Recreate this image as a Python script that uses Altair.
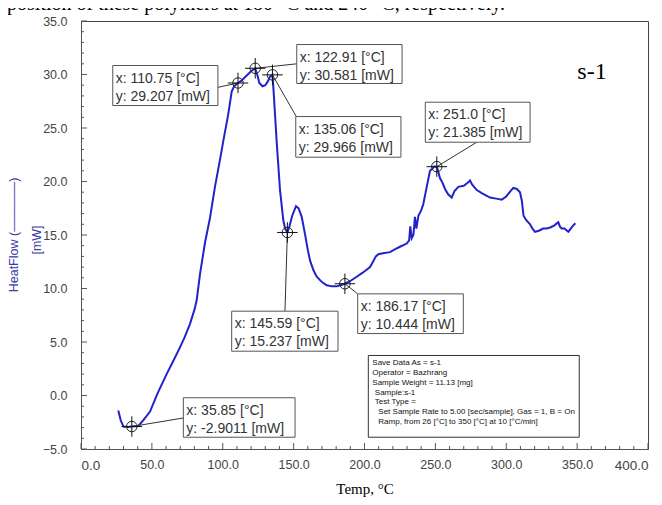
import altair as alt
import pandas as pd

# ---------------- data ----------------
temp = [26.3, 28.0, 29.9, 33.0, 35.85, 40.4, 44.0, 48.7, 54.0, 60.4, 65.0, 69.8, 73.0, 76.9,
        80.0, 81.6, 84.0, 87.5, 91.0, 94.5, 98.0, 100.4, 103.9, 106.3, 108.0, 110.75, 113.0,
        116.9, 120.0, 122.91, 124.5, 125.8, 128.0, 130.0, 132.0, 133.3, 135.06, 135.7, 137.0,
        138.0, 140.4, 142.7, 144.0, 145.59, 147.0, 149.0, 151.7, 153.5, 155.7, 158.0, 160.0,
        161.6, 164.0, 166.3, 170.0, 173.3, 177.0, 180.4, 183.0, 186.17, 190.0, 194.5, 199.0,
        203.9, 206.0, 208.0, 209.8, 213.0, 218.0, 222.0, 225.0, 229.8, 231.5, 232.3, 233.3,
        234.5, 235.6, 236.6, 238.0, 240.0, 241.5, 243.9, 246.2, 248.0, 249.0, 251.0, 253.3,
        255.0, 256.8, 259.0, 261.5, 263.5, 266.2, 270.0, 273.0, 274.4, 276.0, 279.2, 283.0,
        288.5, 293.0, 296.8, 300.0, 303.0, 305.0, 307.5, 309.7, 311.0, 312.2, 314.0, 316.8,
        318.5, 320.3, 323.0, 326.0, 328.5, 331.0, 334.0, 336.7, 337.8, 339.1, 341.0, 343.8,
        345.5, 347.3, 348.8]
heat = [-1.4, -2.3, -2.9, -2.95, -2.9011, -2.85, -2.3, -1.5, 0.2, 2.0, 3.2, 4.5, 5.4, 6.7,
        8.0, 8.9, 11.4, 14.3, 16.6, 19.5, 22.0, 23.8, 26.3, 28.4, 28.9, 29.207, 29.4,
        29.9, 30.3, 30.581, 29.9, 29.2, 28.9, 29.0, 29.4, 29.8, 29.966, 28.8, 26.0,
        23.8, 19.2, 16.4, 15.6, 15.237, 15.8, 16.8, 17.7, 17.5, 16.7, 15.1, 13.6,
        12.6, 11.7, 11.1, 10.6, 10.3, 10.2, 10.2, 10.3, 10.444, 10.7, 11.1, 11.5,
        12.0, 12.5, 13.0, 13.2, 13.3, 13.4, 13.7, 13.9, 14.2, 14.5, 15.8, 14.7,
        15.0, 16.7, 15.6, 16.8, 17.3, 17.9, 19.5, 21.0, 21.2, 21.4, 21.385, 20.3,
        19.9, 19.3, 18.8, 18.5, 19.1, 19.5, 19.6, 19.9, 20.1, 19.7, 19.2, 18.9,
        18.5, 18.4, 18.3, 18.6, 19.1, 19.4, 19.3, 19.0, 18.2, 16.8, 16.4, 16.0,
        15.6, 15.3, 15.4, 15.6, 15.6, 15.7, 15.9, 16.2, 15.8, 15.6, 15.6, 15.3,
        15.6, 15.9, 16.1]

# marked points and their callouts
mark_x = [35.85, 110.75, 122.91, 135.06, 145.59, 186.17, 251.0]
mark_y = [-2.9011, 29.207, 30.581, 29.966, 15.237, 10.444, 21.385]
mark_x_txt = ["35.85", "110.75", "122.91", "135.06", "145.59", "186.17", "251.0"]
mark_y_txt = ["-2.9011", "29.207", "30.581", "29.966", "15.237", "10.444", "21.385"]
box_left = [72.2, 22.4, 152.2, 151.5, 106.3, 195.2, 242.9]
box_right = [151.0, 96.6, 226.5, 225.7, 181.3, 269.7, 316.8]
box_top = [-0.21, 30.84, 32.8, 26.07, 7.88, 9.5, 27.41]
box_bottom = [-3.9, 27.1, 29.16, 22.27, 4.14, 5.79, 23.67]
lead_x2 = [72.2, 96.6, 152.2, 152.2, 143.9, 195.2, 279.2]
lead_y2 = [-2.1, 28.8, 31.0, 26.0, 7.88, 9.5, 23.67]

info_lines_a = ["Save Data As = s-1", "Operator = Bazhrang", "Sample Weight = 11.13 [mg]"]
info_lines_b = ["Sample:s-1", "Test Type ="]
info_lines_c = ["Set Sample Rate to 5.00 [sec/sample], Gas = 1, B = On",
                "Ramp, from 26 [\u00b0C] to 350 [\u00b0C] at 10 [\u00b0C/min]"]
info_box = [202.7, 351.5, 3.74, -3.9]  # left, right, top, bottom (data units)

x_major = list(range(0, 401, 50))
x_minor = [v for v in range(0, 401, 10) if v % 50]
y_major = list(range(-5, 36, 5))
y_minor = [v for v in range(-5, 36) if v % 5]

# ---------------- chart ----------------
W, H = 567, 428
xs = alt.Scale(domain=[0, 400], nice=False, zero=False)
ys = alt.Scale(domain=[-5, 35], nice=False, zero=False)
narrow = "Liberation Sans Narrow, Liberation Sans, Arial, sans-serif"
edge = "datum.value == 0 || datum.value == 400"

x_axis = alt.Axis(values=x_major, format=".1f", title=None, ticks=False, grid=False,
                  domainColor="#555", labelColor="#444", labelPadding=9,
                  labelFlush=False, labelOverlap=False,
                  labelFont={"condition": {"test": edge, "value": "Liberation Sans"}, "value": narrow},
                  labelFontSize={"condition": {"test": edge, "value": 13.5}, "value": 12.5},
                  labelAlign={"condition": [{"test": "datum.value == 0", "value": "left"},
                                            {"test": "datum.value == 400", "value": "right"}],
                              "value": "center"})
y_axis = alt.Axis(values=y_major, format=".1f", title=None, ticks=False, grid=False,
                  domainColor="#555", labelColor="#444", labelPadding=14,
                  labelFont=narrow, labelFontSize=12.5, labelFlush=False, labelOverlap=False)

X = lambda f="x": alt.X(f"{f}:Q", scale=xs, axis=x_axis)
Y = lambda f="y": alt.Y(f"{f}:Q", scale=ys, axis=y_axis)

curve_df = pd.DataFrame({"x": temp, "y": heat, "o": range(len(temp))})
curve = alt.Chart(curve_df).mark_line(color="#2222cc", strokeWidth=2).encode(
    x=X(), y=Y(), order="o:Q")

# inside ticks
tick_col = "#555"
xmaj = alt.Chart(pd.DataFrame({"x": x_major})).mark_rule(color=tick_col).encode(
    x=X(), y=alt.value(H), y2=alt.value(H - 6))
xmin = alt.Chart(pd.DataFrame({"x": x_minor})).mark_rule(color=tick_col).encode(
    x=X(), y=alt.value(H), y2=alt.value(H - 3))
ymaj = alt.Chart(pd.DataFrame({"y": y_major})).mark_rule(color=tick_col).encode(
    y=Y(), x=alt.value(0), x2=alt.value(6))
ymin = alt.Chart(pd.DataFrame({"y": y_minor})).mark_rule(color=tick_col).encode(
    y=Y(), x=alt.value(0), x2=alt.value(3))

ann = pd.DataFrame({
    "x": mark_x, "y": mark_y, "x2": lead_x2, "y2": lead_y2,
    "bl": box_left, "br": box_right, "bt": box_top, "bb": box_bottom,
    "l1": ["x: " + s + " [\u00b0C]" for s in mark_x_txt],
    "l2": ["y: " + s + " [mW]" for s in mark_y_txt],
})
base = alt.Chart(ann)
leaders = base.mark_rule(color="#333", strokeWidth=1).encode(
    x=X(), y=Y(), x2="x2:Q", y2="y2:Q")
boxes = base.mark_rect(fill="white", stroke="#555", strokeWidth=1).encode(
    x=X("bl"), x2="br:Q", y=Y("bt"), y2="bb:Q")
txt1 = base.mark_text(align="left", baseline="middle", dx=3, dy=13, font="Liberation Sans",
                      fontSize=14, color="#333").encode(x=X("bl"), y=Y("bt"), text="l1:N")
txt2 = base.mark_text(align="left", baseline="middle", dx=3, dy=31, font="Liberation Sans",
                      fontSize=14, color="#333").encode(x=X("bl"), y=Y("bt"), text="l2:N")
circ = base.mark_point(shape="circle", filled=False, size=110, color="#222", strokeWidth=1,
                       opacity=1).encode(x=X(), y=Y())
cross = base.mark_point(shape="M-1,0L1,0M0,-1L0,1", filled=False, size=420, color="#111",
                        strokeWidth=1, opacity=1).encode(x=X(), y=Y())

info_df = pd.DataFrame({"x": [info_box[0]], "x2": [info_box[1]], "y": [info_box[2]], "y2": [info_box[3]]})
info_rect = alt.Chart(info_df).mark_rect(fill="white", stroke="#333", strokeWidth=1).encode(
    x=X(), x2="x2:Q", y=Y(), y2="y2:Q")
LH = 9.7
def info_text(lines, dx, first):
    return alt.Chart(info_df).mark_text(text=lines, align="left", baseline="top", dx=dx,
                                        dy=4 + first * LH, lineHeight=LH, font="Liberation Sans",
                                        fontSize=8, color="#111").encode(x=X(), y=Y())
info_a = info_text(info_lines_a, 4, 0)
info_b = info_text(info_lines_b, 6.5, 3)
info_c = info_text(info_lines_c, 10, 5)

one = pd.DataFrame({"a": [0]})
s1 = alt.Chart(one).mark_text(text="s-1", font="Liberation Serif", fontSize=24, color="#000",
                              align="center", baseline="middle").encode(x=alt.value(511), y=alt.value(51))
ytitle1 = alt.Chart(one).mark_text(text="HeatFlow (\u2014\u2014\u2014\u2014)", angle=270,
                                   font="Liberation Sans", fontSize=12.5, color="#3b3ba3",
                                   align="center", baseline="middle").encode(x=alt.value(-67), y=alt.value(214))
ytitle2 = alt.Chart(one).mark_text(text="[mW]", angle=270, font="Liberation Sans", fontSize=12.5,
                                   color="#3b3ba3", align="center", baseline="middle").encode(
    x=alt.value(-44.5), y=alt.value(219))
xtitle = alt.Chart(one).mark_text(text="Temp, \u00b0C", font="Liberation Serif", fontSize=15,
                                  color="#000", align="center", baseline="alphabetic").encode(
    x=alt.value(284), y=alt.value(473))
toptext = alt.Chart(one).mark_text(text="composition of these polymers at 180 \u00b0C and 240 \u00b0C, respectively.",
                                   font="Liberation Serif", fontSize=20, color="#000", align="right",
                                   baseline="alphabetic").encode(x=alt.value(424), y=alt.value(-11))

chart = alt.layer(
    xmin, xmaj, ymin, ymaj, curve, leaders, boxes, txt1, txt2, circ, cross,
    info_rect, info_a, info_b, info_c, s1, ytitle1, ytitle2, xtitle, toptext
).properties(
    width=W, height=H, autosize="none",
    padding={"left": 73, "top": 13, "right": 6, "bottom": 48},
).configure_view(stroke="#444", strokeWidth=1)

chart.save("out.html", embed_options={"renderer": "svg", "actions": False})
